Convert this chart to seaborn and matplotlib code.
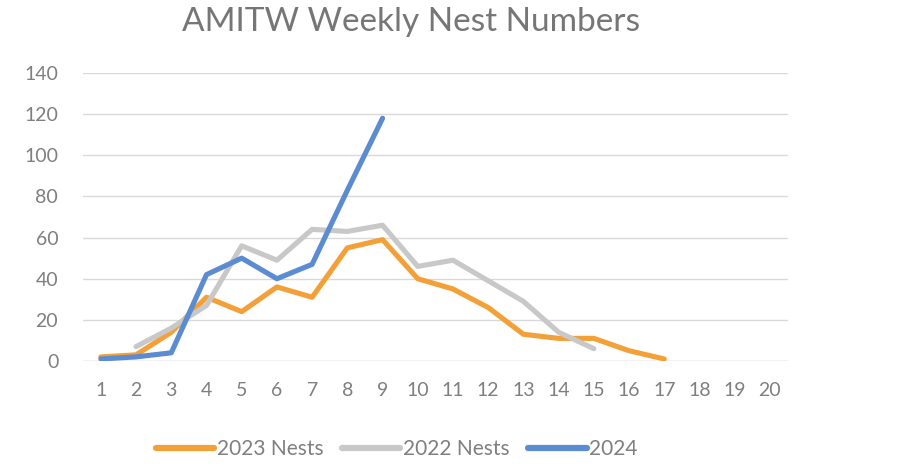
import matplotlib
matplotlib.use("Agg")
import matplotlib.pyplot as plt
import seaborn as sns
import pandas as pd
import numpy as np

weeks = list(range(1, 21))
nests_2023 = [2, 3, 14, 31, 24, 36, 31, 55, 59, 40, 35, 26, 13, 11, 11, 5, 1]
nests_2022 = [None, 7, 16, 27, 56, 49, 64, 63, 66, 46, 49, 39, 29, 14, 6]
nests_2024 = [1, 2, 4, 42, 50, 40, 47, 83, 118]
series_names = ["2023 Nests", "2022 Nests", "2024"]
colors = ["#F4A038", "#C8C8C8", "#5B8BD0"]
y_ticks = [0, 20, 40, 60, 80, 100, 120, 140]

rows = []
for name, vals in zip(series_names, [nests_2023, nests_2022, nests_2024]):
    for w, v in zip(weeks, vals):
        if v is not None:
            rows.append({"Week": w, "Nests": v, "Series": name})
df = pd.DataFrame(rows)

sns.set_theme(style="white")
plt.rcParams["font.family"] = ["Lato", "DejaVu Sans"]

fig = plt.figure(figsize=(9, 4.68), dpi=100)
ax = fig.add_axes([0.0925, 0.2286, 0.7825, 0.6154])

sns.lineplot(data=df, x="Week", y="Nests", hue="Series", hue_order=series_names,
             palette=colors, linewidth=3.7, ax=ax, legend=True,
             solid_capstyle="round", solid_joinstyle="round")

ax.set_xlim(0.5, 20.5)
ax.set_ylim(0, 140)
ax.set_xticks(weeks)
ax.set_yticks(y_ticks)
ax.set_xlabel("")
ax.set_ylabel("")
for s in ax.spines.values():
    s.set_visible(False)
ax.yaxis.grid(True, color="#D9D9D9", linewidth=1.0)
ax.set_axisbelow(True)
ax.axhline(0, color="#D9D9D9", linewidth=1.0, zorder=0)
ax.tick_params(axis="both", length=0, labelsize=14, labelcolor="#7F7F7F")
ax.tick_params(axis="y", pad=18)
ax.tick_params(axis="x", pad=15)

ax.set_title("AMITW Weekly Nest Numbers", fontsize=24, color="#767676", pad=30, x=0.466)

handles, labels = ax.get_legend_handles_labels()
leg = ax.legend(handles, labels, loc="upper center", bbox_to_anchor=(0.445, -0.205),
                ncol=3, frameon=False, fontsize=15, handlelength=2.8,
                handletextpad=0.12, columnspacing=0.9, labelcolor="#7F7F7F")
for line in leg.get_lines():
    line.set_linewidth(4.5)
    line.set_solid_capstyle("round")

fig.savefig("out.png", dpi=100, facecolor="white")
